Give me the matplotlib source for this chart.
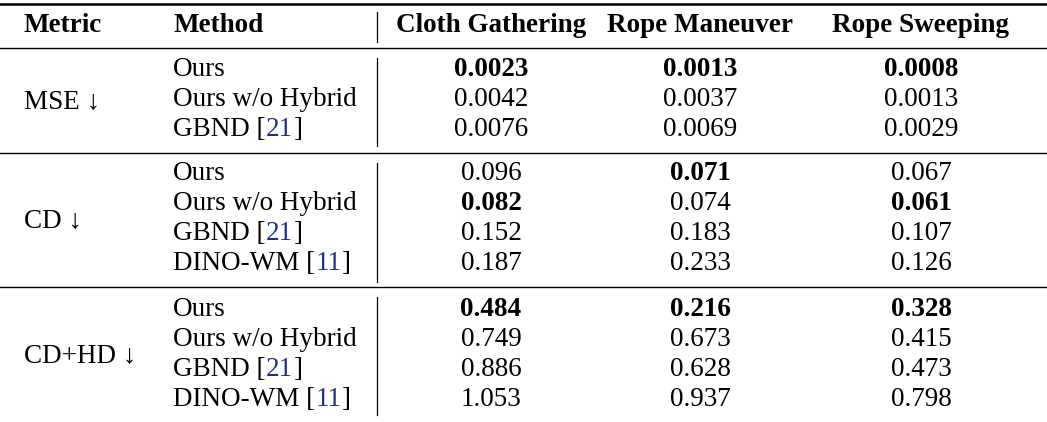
import matplotlib
matplotlib.use('Agg')
import matplotlib.pyplot as plt

plt.rcParams['font.family'] = ['Liberation Serif', 'DejaVu Serif']
plt.rcParams['font.size'] = 19.5

columns = ['Cloth Gathering', 'Rope Maneuver', 'Rope Sweeping']
metrics = ['MSE \u2193', 'CD \u2193', 'CD+HD \u2193']
methods = [
  [('Ours', None), ('Ours w/o Hybrid', None), ('GBND', '21')],
  [('Ours', None), ('Ours w/o Hybrid', None), ('GBND', '21'), ('DINO-WM', '11')],
  [('Ours', None), ('Ours w/o Hybrid', None), ('GBND', '21'), ('DINO-WM', '11')],
]
values = [
  [['0.0023', '0.0013', '0.0008'],
   ['0.0042', '0.0037', '0.0013'],
   ['0.0076', '0.0069', '0.0029']],
  [['0.096', '0.071', '0.067'],
   ['0.082', '0.074', '0.061'],
   ['0.152', '0.183', '0.107'],
   ['0.187', '0.233', '0.126']],
  [['0.484', '0.216', '0.328'],
   ['0.749', '0.673', '0.415'],
   ['0.886', '0.628', '0.473'],
   ['1.053', '0.937', '0.798']],
]

W, H = 1047, 422
fig = plt.figure(figsize=(W/100, H/100), dpi=100)
ax = fig.add_axes([0, 0, 1, 1])
ax.set_xlim(0, W)
ax.set_ylim(H, 0)
ax.axis('off')

cite_col = '#1f2f8a'
col_x = [491, 700, 921]
x_metric, x_method, x_sep = 24, 173, 377

# header
ax.text(x_metric, 26, 'Metric', weight='bold', va='center')
ax.text(x_method, 26, 'Method', weight='bold', va='center')
for x, c in zip(col_x, columns):
  ax.text(x, 26, c, weight='bold', ha='center', va='center')
ax.plot([x_sep, x_sep], [12, 42], c='k', lw=0.9)

# rules
ax.plot([0, W], [4, 4], c='k', lw=1.8)
for y in [48, 153, 287]:
  ax.plot([0, W], [y, y], c='k', lw=1.0)

fig.canvas.draw()
r = fig.canvas.get_renderer()

first_row = [70, 174, 309]
row_h = 30
seg = [(58, 146), (163, 282), (297, 415)]
for g in range(3):
  rows = values[g]
  n = len(rows)
  ys = [first_row[g] + i*row_h for i in range(n)]
  ax.text(x_metric, (ys[0]+ys[-1])/2 + 2, metrics[g], va='center')
  ax.plot([x_sep, x_sep], seg[g], c='k', lw=0.9)
  best = [min(range(n), key=lambda i: float(rows[i][j])) for j in range(3)]
  for i, (y, (name, cite)) in enumerate(zip(ys, methods[g])):
    if cite is None:
      ax.text(x_method, y, name, va='center')
    else:
      t = ax.text(x_method, y, name + ' [', va='center')
      x1 = ax.transData.inverted().transform((t.get_window_extent(r).x1, 0))[0]
      t2 = ax.text(x1, y, cite, va='center', color=cite_col)
      x2 = ax.transData.inverted().transform((t2.get_window_extent(r).x1, 0))[0]
      ax.text(x2, y, ']', va='center')
    for j in range(3):
      ax.text(col_x[j], y, rows[i][j], ha='center', va='center',
              weight='bold' if best[j] == i else 'normal')

fig.savefig('out.png', dpi=100)
